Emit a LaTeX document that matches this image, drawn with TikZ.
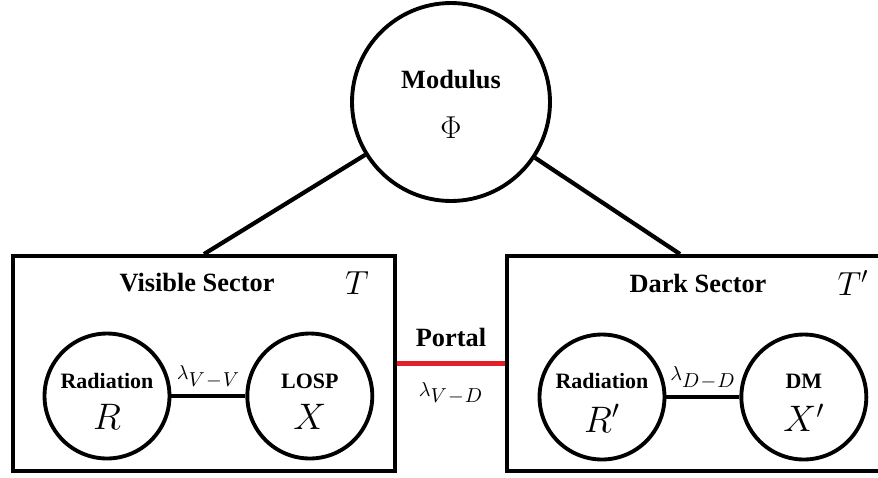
\documentclass[tikz,border=0pt]{standalone}
\usepackage{fix-cm}
\usepackage{fontspec}
\setmainfont{Liberation Serif}
\usetikzlibrary{positioning,calc}
\definecolor{portalred}{HTML}{E3202A}

\begin{document}
\begin{tikzpicture}[x=0.02cm,y=-0.02cm,
  bubble/.style={draw,circle,line width=2.2pt,minimum size=2.5cm,inner sep=0pt,align=center,font=\fontsize{12.5}{14}\selectfont\bfseries},
  sector/.style={draw,line width=2.2pt,minimum width=7.64cm,minimum height=4.3cm},
  title/.style={font=\fontsize{15}{18}\selectfont\bfseries},
  temp/.style={font=\fontsize{19}{22}\selectfont},
  link/.style={line width=2.4pt},
  coup/.style={font=\fontsize{11.5}{13}\selectfont}
]
  \useasboundingbox (0,0) rectangle (878,477);
  % sectors
  \node[sector] (vis) at (204,363.5) {};
  \node[sector] (dark) at (698,363.5) {};
  \node[title] (vistitle) at (197,283) {Visible Sector};
  \node[temp] (vistemp) at (357,283) {$T$};
  \node[title] (darktitle) at (698,283) {Dark Sector};
  \node[temp] (darktemp) at (853,283) {$T'$};
  % modulus
  \node[bubble,minimum size=3.96cm,font=\fontsize{15}{18}\selectfont\bfseries] (mod) at (451,102)
    {\rule{0pt}{13pt}Modulus\\[10pt]{\fontsize{18}{20}\selectfont$\Phi$}};
  \draw[link] (mod) -- (vis.north);
  \draw[link] (mod) -- ($(dark.north)+(-18,0)$);
  % particles
  \node[bubble] (rad) at (107,396) {\rule{0pt}{15pt}Radiation\\[8pt]{\fontsize{21}{22}\selectfont$R$}};
  \node[bubble,right=1.48cm of rad] (losp) {\rule{0pt}{15pt}LOSP\\[8pt]{\fontsize{21}{22}\selectfont$X$}};
  \node[bubble] (radd) at (602,397) {\rule{0pt}{15pt}Radiation\\[8pt]{\fontsize{21}{22}\selectfont$R'$}};
  \node[bubble,right=1.46cm of radd] (dm) {\rule{0pt}{15pt}DM\\[8pt]{\fontsize{21}{22}\selectfont$X'$}};
  \draw[link] (rad) -- node[coup,above] {$\lambda_{\textstyle V\!-\!V}$} (losp);
  \draw[link] (radd) -- node[coup,above] {$\lambda_{\textstyle D\!-\!D}$} (dm);
  % portal
  \draw[link,portalred] (vis.east) -- node[title,above=5pt,text=black] {Portal}
    node[coup,below=6pt,text=black] {$\lambda_{\textstyle V\!-\!D}$} (dark.west);
\end{tikzpicture}
\end{document}
